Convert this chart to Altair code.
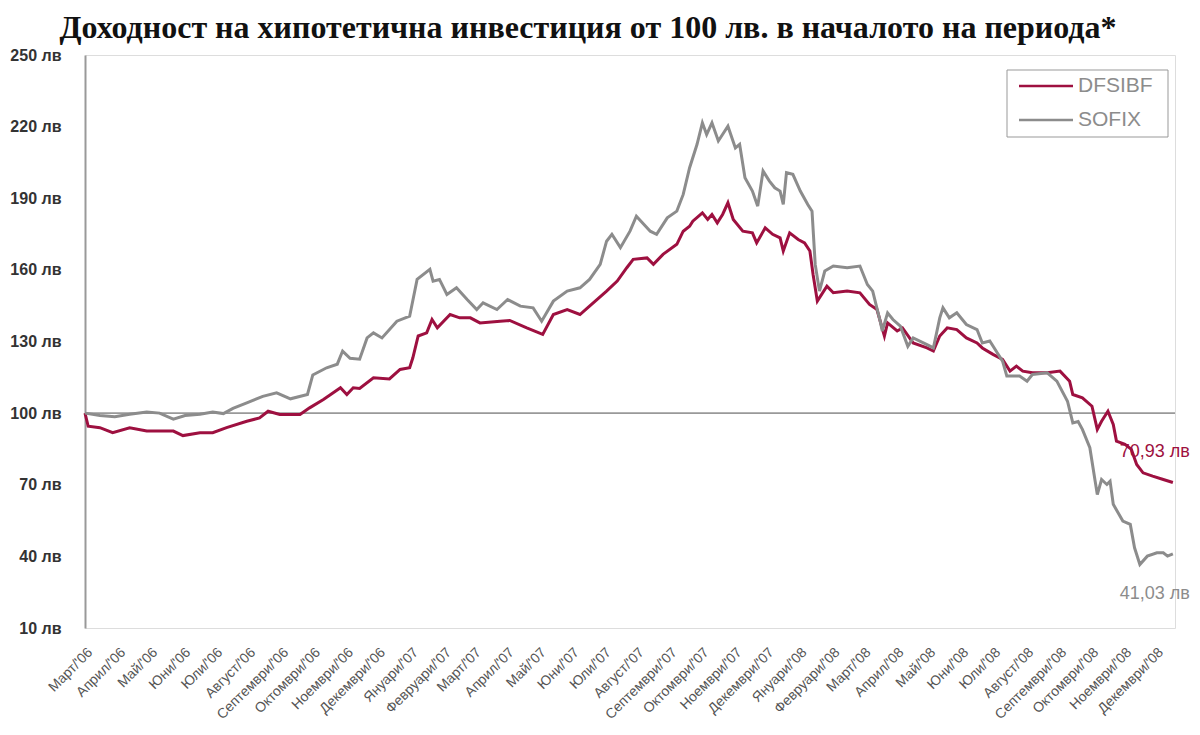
import json
import pandas as pd
import altair as alt

# ---------------- data ----------------
title_text = "Доходност на хипотетична инвестиция от 100 лв. в началото на периода*"
series_names = ["DFSIBF", "SOFIX"]
series_colors = ["#9E1040", "#8C8C8C"]
month_names = ["Януари", "Февруари", "Март", "Април", "Май", "Юни", "Юли",
               "Август", "Септември", "Октомври", "Ноември", "Декември"]
y_ticks = [10, 40, 70, 100, 130, 160, 190, 220, 250]
start_date = "2006-03-01"

# days elapsed since 1 March 2006
sofix_days = [0, 14, 28, 42, 58, 70, 83, 94, 108, 120, 130, 139, 152, 167, 180, 193, 209, 214, 227, 237,
              242, 249, 258, 265, 271, 279, 293, 305, 312, 324, 327, 333, 340, 349, 359, 368, 374, 387, 397, 409,
              421, 429, 440, 453, 465, 474, 484, 490, 495, 503, 512, 518, 531, 537, 547, 556, 562, 568, 575, 580,
              584, 589, 595, 604, 611, 615, 620, 627, 632, 637, 643, 648, 653, 656, 659, 665, 672, 679, 683, 686,
              690, 695, 703, 716, 728, 735, 740, 747, 749, 754, 759, 766, 773, 778, 791, 797, 803, 806, 812, 819,
              828, 838, 843, 850, 857, 862, 866, 878, 885, 890, 904, 913, 923, 928, 933, 937, 944, 949, 951, 955,
              960, 963, 966, 975, 982, 986, 991, 998, 1007, 1013, 1017, 1022]
sofix_vals = [100, 99, 98.5, 99.5, 100.5, 100, 97.5, 99, 99.5, 100.5, 99.8, 102, 104.3, 107, 108.5, 106, 107.8, 116, 119, 120.5,
              126, 123, 122.6, 131.5, 133.6, 131.5, 138.5, 140.6, 156, 160.2, 155.3, 156, 149.7, 152.5, 147.6, 143.4, 146.2, 143.4, 147.6, 144.8,
              144.1, 138.5, 146.9, 151.1, 152.5, 156, 162.3, 172, 174.9, 169.3, 176.2, 182.5, 176.2, 174.9, 181.8, 184.6, 191.6, 202.8, 212.6, 221.6,
              216.7, 221.6, 214, 220.2, 211.1, 212.6, 198.6, 193, 186.7, 201.4, 197.2, 194.4, 193, 187.4, 200.7, 200, 193, 187.4, 184.6, 162.3,
              151.1, 159.5, 161.6, 160.9, 161.6, 153.9, 151.1, 138.5, 134.4, 142, 139.2, 136.4, 128, 131.5, 128.7, 127.3, 139.9, 144.1, 139.9, 142,
              137.1, 135, 129.4, 130.2, 125.3, 121.8, 115.5, 115.5, 113.4, 116.2, 116.9, 113.4, 105, 95.9, 96.5, 93.2, 85.5, 71.5, 65.9, 72.2,
              70.1, 71.5, 61.8, 54.8, 53.4, 43.6, 36.6, 40.1, 41.5, 41.5, 40.1, 41.03]

dfsibf_days = [0, 3, 14, 26, 42, 58, 83, 92, 108, 120, 133, 152, 164, 172, 183, 202, 211, 224, 240, 246,
               252, 258, 271, 286, 296, 305, 308, 313, 321, 326, 331, 343, 352, 362, 371, 390, 399, 415, 430, 440,
               453, 465, 474, 490, 500, 509, 515, 528, 534, 543, 556, 562, 568, 571, 580, 585, 589, 594, 599, 604,
               609, 618, 627, 631, 639, 646, 653, 656, 662, 670, 676, 681, 684, 688, 697, 703, 716, 728, 737, 744,
               751, 754, 763, 768, 778, 791, 797, 803, 810, 819, 828, 838, 843, 853, 862, 869, 875, 881, 890, 904,
               916, 925, 928, 937, 946, 951, 955, 961, 966, 969, 977, 983, 988, 994, 1003, 1013, 1022]
dfsibf_vals = [100, 94.5, 93.9, 91.8, 93.9, 92.5, 92.5, 90.6, 91.8, 91.8, 93.9, 96.6, 98, 100.8, 99.4, 99.4, 102.2, 105.7, 110.6, 107.8,
               110.6, 110.3, 114.8, 114.3, 118.3, 119, 123.2, 132.3, 133.6, 139.2, 135.7, 141.3, 139.9, 139.9, 137.8, 138.5, 138.8, 135.7, 133, 141.3,
               143.4, 141.3, 144.8, 151.1, 155.3, 160.9, 164.4, 165, 162.3, 166.5, 170.7, 176.2, 178.3, 180.4, 183.9, 181.1, 183.2, 179.7, 183.2, 188.1,
               181.1, 176.2, 175.5, 171.3, 177.6, 174.9, 173.4, 167.9, 175.5, 172.7, 171.3, 167.9, 158.1, 146.9, 153.2, 150.4, 151.1, 150.4, 145.5, 143.4,
               132.3, 137.8, 134.4, 135.7, 129.4, 127.3, 126, 132.3, 135.7, 135, 131.5, 129.4, 127.3, 124.6, 122.5, 117.6, 119.7, 117.6, 116.9, 116.9,
               117.6, 113.4, 107.8, 106.4, 102.9, 93.2, 96.6, 100.8, 95.3, 88.3, 86.9, 84.8, 78.5, 75, 73.6, 72.2, 70.93]

end_labels = ["70,93 лв", "41,03 лв"]

# ---------------- tables ----------------
t0 = pd.Timestamp(start_date)
df_d = pd.DataFrame({"date": t0 + pd.to_timedelta(dfsibf_days, unit="D"), "value": dfsibf_vals, "series": series_names[0]})
df_s = pd.DataFrame({"date": t0 + pd.to_timedelta(sofix_days, unit="D"), "value": sofix_vals, "series": series_names[1]})
last_d = df_d.tail(1).assign(label=end_labels[0])
last_s = df_s.tail(1).assign(label=end_labels[1])

month_ticks = [alt.DateTime(year=d.year, month=d.month, date=1)
               for d in pd.date_range("2006-03-01", "2008-12-01", freq="MS")]
label_expr = json.dumps(month_names, ensure_ascii=False) + "[month(datum.value)] + \"/'\" + timeFormat(datum.value, '%y')"

W, H = 1090, 573
x_scale = alt.Scale(domain=[alt.DateTime(year=2006, month=3, date=1), alt.DateTime(year=2008, month=12, date=19)])
y_scale = alt.Scale(domain=[10, 250], nice=False, zero=False)

x_axis = alt.Axis(values=month_ticks, labelExpr=label_expr, labelAngle=315, labelAlign="right",
                  labelBaseline="top", labelPadding=17, labelOverlap=False, labelBound=False,
                  domain=False, ticks=False, grid=False, labelFont="Liberation Sans",
                  labelFontSize=14, labelColor="#555555")
y_axis = alt.Axis(values=y_ticks, labelExpr="datum.value + ' лв'", grid=False, ticks=False,
                  domainColor="#999999", domainWidth=2, labelPadding=24,
                  labelFont="Liberation Sans", labelFontWeight="bold",
                  labelFontSize=16, labelColor="#333333")


def xe():
    return alt.X("date:T", scale=x_scale, title=None, axis=x_axis)


def ye():
    return alt.Y("value:Q", scale=y_scale, title=None, axis=y_axis)


one = pd.DataFrame({"k": [0]})

base_rule = alt.Chart(pd.DataFrame({"value": [100]})).mark_rule(color="#999999", strokeWidth=1.6).encode(y=ye())

line_d = alt.Chart(df_d).mark_line(color=series_colors[0], strokeWidth=3).encode(x=xe(), y=ye())
line_s = alt.Chart(df_s).mark_line(color=series_colors[1], strokeWidth=3).encode(x=xe(), y=ye())

lab_d = alt.Chart(last_d).mark_text(color=series_colors[0], fontSize=18, font="Liberation Sans",
                                     align="right", baseline="middle", dx=17, dy=-31).encode(
    x=xe(), y=ye(), text="label:N")
lab_s = alt.Chart(last_s).mark_text(color=series_colors[1], fontSize=18, font="Liberation Sans",
                                     align="right", baseline="middle", dx=17, dy=40).encode(
    x=xe(), y=ye(), text="label:N")

# legend box
leg_box = alt.Chart(one).mark_rect(fill="white", stroke="#999999", strokeWidth=1).encode(
    x=alt.value(922), x2=alt.value(1083), y=alt.value(15), y2=alt.value(82))
leg_layers = [leg_box]
for i, (name, col) in enumerate(zip(series_names, series_colors)):
    yy = 31 + 34 * i
    leg_layers.append(alt.Chart(one).mark_rule(color=col, strokeWidth=2.5).encode(
        x=alt.value(934), x2=alt.value(988), y=alt.value(yy)))
    leg_layers.append(alt.Chart(one).mark_text(color="#8C8C8C", fontSize=21, font="Liberation Sans",
                                               align="left", baseline="middle").encode(
        x=alt.value(993), y=alt.value(yy), text=alt.value(name)))

chart = alt.layer(base_rule, line_d, line_s, lab_d, lab_s, *leg_layers).properties(
    width=W, height=H,
    title=alt.TitleParams(text=title_text, font="Liberation Serif", fontSize=32, fontWeight="bold",
                          color="#111111", anchor="middle", dx=-42, offset=2),
    autosize=alt.AutoSizeParams(type="none"),
    padding={"left": 77, "top": 47, "right": 17, "bottom": 95},
).configure_view(stroke=None).configure_axis(labelOverlap=False).configure(background="white")

chart.save("out.html", embed_options={"renderer": "svg", "actions": False})
